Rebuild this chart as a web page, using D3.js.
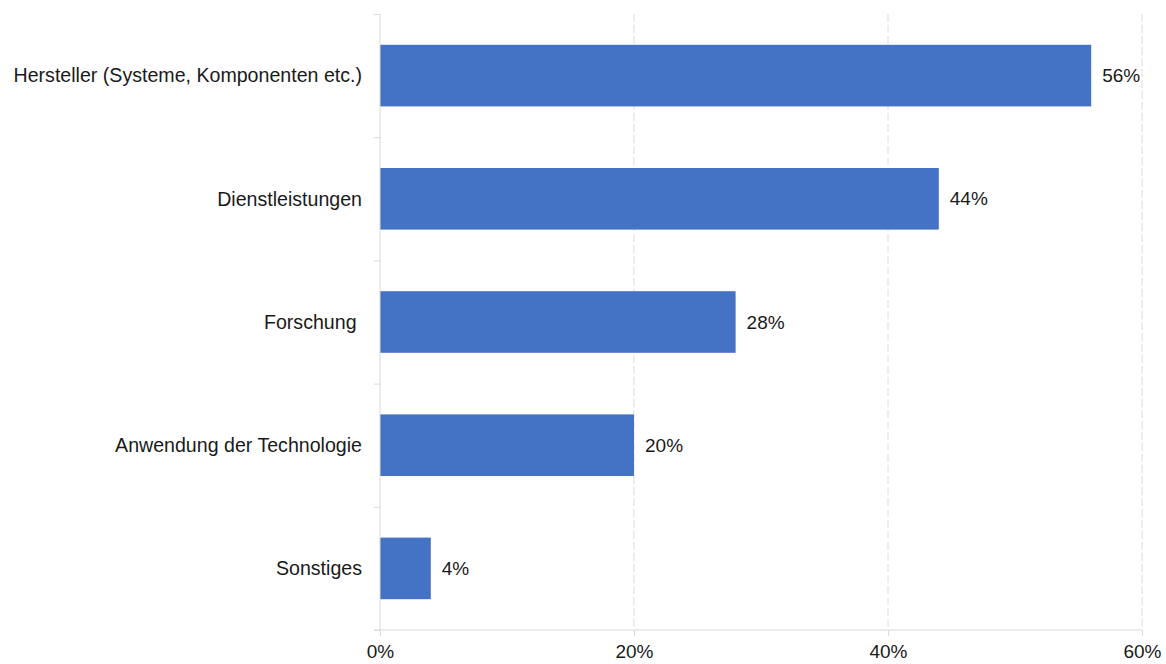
<!DOCTYPE html>
<html>
<head>
<meta charset="utf-8">
<script src="https://cdn.jsdelivr.net/npm/d3@7"></script>
<style>
  html, body { margin: 0; padding: 0; background: #fff; }
  svg text { font-family: "Liberation Sans", Arial, sans-serif; fill: #1a1a1a; }
</style>
</head>
<body>
<svg id="chart" width="1166" height="664"></svg>
<script>
// Categories and their shares (percent)
const categories = [
  "Hersteller (Systeme, Komponenten etc.)",
  "Dienstleistungen",
  "Forschung ",
  "Anwendung der Technologie",
  "Sonstiges"
];
const values = [56, 44, 28, 20, 4];
const xTicks = [0, 20, 40, 60];

const FONT = 19;
const CAT_FONT = 19.6;
const svg = d3.select("#chart");
const margin = { top: 14, right: 24, bottom: 34, left: 380 };
const width = 1166 - margin.left - margin.right;
const height = 664 - margin.top - margin.bottom;

const g = svg.append("g").attr("transform", `translate(${margin.left},${margin.top})`);

const x = d3.scaleLinear().domain([0, 60]).range([0, width]);
const y = d3.scaleBand().domain(categories).range([0, height]).paddingInner(0.5).paddingOuter(0.25);

// Vertical dashed gridlines
g.selectAll(".grid")
  .data(xTicks.filter(d => d > 0))
  .join("line")
  .attr("x1", d => x(d)).attr("x2", d => x(d))
  .attr("y1", 0).attr("y2", height)
  .attr("stroke", "#dcdcdc")
  .attr("stroke-width", 1)
  .attr("stroke-dasharray", "8,3");

// Bars
g.selectAll(".bar")
  .data(values)
  .join("rect")
  .attr("x", x(0))
  .attr("y", (d, i) => y(categories[i]))
  .attr("width", d => x(d) - x(0))
  .attr("height", y.bandwidth())
  .attr("fill", "#4472C4");

// Value labels
g.selectAll(".val")
  .data(values)
  .join("text")
  .attr("x", d => x(d) + 11)
  .attr("y", (d, i) => y(categories[i]) + y.bandwidth() / 2)
  .attr("dy", "0.35em")
  .attr("font-size", FONT)
  .text(d => d + "%");

// Category axis
const yAxis = g.append("g")
  .call(d3.axisLeft(d3.scaleLinear().domain([0, categories.length]).range([0, height]))
    .tickValues(d3.range(categories.length + 1))
    .tickSize(6).tickFormat(""));
yAxis.select(".domain").attr("stroke", "#d9d9d9").attr("d", `M0,0V${height}`);
yAxis.selectAll(".tick line").attr("stroke", "#d9d9d9");

g.selectAll(".cat")
  .data(categories)
  .join("text")
  .attr("x", -18)
  .attr("y", d => y(d) + y.bandwidth() / 2)
  .attr("dy", "0.35em")
  .attr("text-anchor", "end")
  .attr("font-size", CAT_FONT)
  .attr("xml:space", "preserve")
  .style("white-space", "pre")
  .text(d => d);

// Value axis
const xAxis = g.append("g")
  .attr("transform", `translate(0,${height})`)
  .call(d3.axisBottom(x).tickValues(xTicks).tickSize(6).tickFormat(d => d + "%"));
xAxis.select(".domain").attr("stroke", "#d9d9d9").attr("d", `M-6,0H${width}`);
xAxis.selectAll(".tick line").attr("stroke", "#d9d9d9");
xAxis.selectAll(".tick text")
  .attr("font-size", FONT)
  .attr("font-family", "Liberation Sans, Arial, sans-serif")
  .attr("fill", "#1a1a1a")
  .attr("y", 15);
</script>
</body>
</html>
